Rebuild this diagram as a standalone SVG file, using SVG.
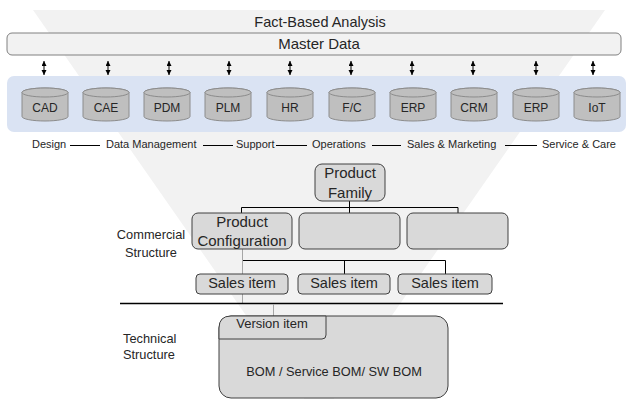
<svg xmlns="http://www.w3.org/2000/svg" xmlns:xlink="http://www.w3.org/1999/xlink" width="627" height="399" viewBox="0 0 627 399">
  <style>
    text { font-family: "Liberation Sans", Arial, sans-serif; fill: #262626; }
    .funnel { fill: #f2f2f2; }
    .bar { fill: #f2f2f2; stroke: #808080; stroke-width: 1; }
    .band { fill: #dae3f3; }
    .cyl { fill: #bfbfbf; stroke: #8c8c8c; stroke-width: 1; }
    .box { fill: #d9d9d9; stroke: #404040; stroke-width: 1; }
    .title { font-size: 14.5px; text-anchor: middle; }
    .sys { font-size: 12px; text-anchor: middle; }
    .stage { font-size: 11px; }
    .node { font-size: 15px; text-anchor: middle; }
    .side { font-size: 12.8px; }
    .link { stroke: #000; stroke-width: 1; fill: none; }
    .soft { stroke: #a6a6a6; stroke-width: 1; fill: none; }
    .sync { stroke: #000; stroke-width: 1; fill: none; marker-start: url(#head); marker-end: url(#head); }
  </style>
  <defs>
    <marker id="head" markerUnits="userSpaceOnUse" markerWidth="6" markerHeight="6" refX="5" refY="2.5" orient="auto-start-reverse">
      <path d="M0,0 L5,2.5 L0,5 Z" fill="#000"/>
    </marker>
    <!-- database cylinder, centred on x = 0 -->
    <g id="cylinder">
      <path class="cyl" d="M-23,92.5 L-23,116.5 A23,4.5 0 0 0 23,116.5 L23,92.5 A23,4.5 0 0 0 -23,92.5 Z"/>
      <ellipse class="cyl" cx="0" cy="92.5" rx="23" ry="4.5"/>
    </g>
  </defs>

  <!-- funnel backdrop -->
  <polygon class="funnel" points="33,10 605,10 319,420"/>

  <g id="fact-based-analysis">
    <text class="title" x="320" y="26.5">Fact-Based Analysis</text>
  </g>

  <g id="master-data">
    <rect class="bar" x="7" y="33" width="614" height="22" rx="5"/>
    <text class="title" x="319" y="48.5" style="font-size:15px">Master Data</text>
  </g>

  <g id="systems">
    <rect class="band" x="7" y="76" width="619" height="56" rx="7"/>
  </g>

  <g id="cad"><use xlink:href="#cylinder" x="45"/><text class="sys" x="45" y="112">CAD</text></g>
  <g id="cae"><use xlink:href="#cylinder" x="106"/><text class="sys" x="106" y="112">CAE</text></g>
  <g id="pdm"><use xlink:href="#cylinder" x="167"/><text class="sys" x="167" y="112">PDM</text></g>
  <g id="plm"><use xlink:href="#cylinder" x="228"/><text class="sys" x="228" y="112">PLM</text></g>
  <g id="hr"><use xlink:href="#cylinder" x="290"/><text class="sys" x="290" y="112">HR</text></g>
  <g id="fc"><use xlink:href="#cylinder" x="352"/><text class="sys" x="352" y="112">F/C</text></g>
  <g id="erp-1"><use xlink:href="#cylinder" x="413"/><text class="sys" x="413" y="112">ERP</text></g>
  <g id="crm"><use xlink:href="#cylinder" x="474"/><text class="sys" x="474" y="112">CRM</text></g>
  <g id="erp-2"><use xlink:href="#cylinder" x="536"/><text class="sys" x="536" y="112">ERP</text></g>
  <g id="iot"><use xlink:href="#cylinder" x="597"/><text class="sys" x="597" y="112">IoT</text></g>

  <g id="lifecycle-stages">
    <text class="stage" x="32" y="148">Design</text>
    <text class="stage" x="106" y="148">Data Management</text>
    <text class="stage" x="236" y="148">Support</text>
    <text class="stage" x="312" y="148">Operations</text>
    <text class="stage" x="407" y="148">Sales &amp; Marketing</text>
    <text class="stage" x="542" y="148">Service &amp; Care</text>
    <path class="link" d="M70,145.5 H100 M203,145.5 H233 M276,145.5 H307 M372,145.5 H401 M505,145.5 H537"/>
  </g>

  <g id="connectors">
    <!-- master data sync arrows -->
    <path class="sync" d="M44,61 V75"/>
    <path class="sync" d="M108,61 V75"/>
    <path class="sync" d="M169,61 V75"/>
    <path class="sync" d="M229,61 V75"/>
    <path class="sync" d="M290,61 V75"/>
    <path class="sync" d="M351,61 V75"/>
    <path class="sync" d="M412,61 V75"/>
    <path class="sync" d="M473,61 V75"/>
    <path class="sync" d="M536,61 V75"/>
    <path class="sync" d="M593,61 V75"/>
    <!-- product family to configurations -->
    <path class="link" d="M349.5,201 V213 M241.5,213 V207.5 H458 V213"/>
    <!-- configuration to sales items -->
    <path class="soft" d="M242.5,249 V274 M242.5,294 V303"/>
    <path class="link" d="M243,260.5 H445.5 V274 M344.5,260.5 V274"/>
    <!-- boundary between commercial and technical structure -->
    <path d="M120,303.5 H503" stroke="#000" stroke-width="1.5"/>
    <path class="soft" d="M273.5,304 V316"/>
  </g>

  <g id="commercial-structure-label">
    <text class="side" x="151" y="239" text-anchor="middle">Commercial</text>
    <text class="side" x="151" y="257" text-anchor="middle">Structure</text>
  </g>

  <g id="technical-structure-label">
    <text class="side" x="123" y="343">Technical</text>
    <text class="side" x="123" y="359">Structure</text>
  </g>

  <g id="product-family">
    <rect class="box" x="315" y="164" width="70" height="37" rx="7"/>
    <text class="node" x="350" y="178">Product</text>
    <text class="node" x="350" y="198">Family</text>
  </g>

  <g id="product-configuration">
    <rect class="box" x="192" y="213" width="100" height="36" rx="6"/>
    <text class="node" x="242" y="226.5">Product</text>
    <text class="node" x="242" y="245.5">Configuration</text>
  </g>
  <g id="configuration-2">
    <rect class="box" x="299" y="213" width="101" height="36" rx="6"/>
  </g>
  <g id="configuration-3">
    <rect class="box" x="407" y="213" width="101" height="36" rx="6"/>
  </g>

  <g id="sales-item-1">
    <rect class="box" x="196" y="274" width="92" height="20" rx="4"/>
    <text class="node" x="242" y="288" style="font-size:14.5px">Sales item</text>
  </g>
  <g id="sales-item-2">
    <rect class="box" x="298" y="274" width="92" height="20" rx="4"/>
    <text class="node" x="344" y="288" style="font-size:14.5px">Sales item</text>
  </g>
  <g id="sales-item-3">
    <rect class="box" x="398" y="274" width="94" height="20" rx="4"/>
    <text class="node" x="445" y="288" style="font-size:14.5px">Sales item</text>
  </g>

  <g id="bom">
    <rect class="box" x="219" y="316" width="229" height="82" rx="12"/>
    <text x="334" y="376" style="font-size:12.8px" text-anchor="middle">BOM / Service BOM/ SW BOM</text>
  </g>
  <g id="version-item">
    <path class="box" d="M219,339 V328 Q219,316 231,316 H326 V335 Q326,339 322,339 Z"/>
    <text x="272" y="328" style="font-size:13px" text-anchor="middle">Version item</text>
  </g>
</svg>
